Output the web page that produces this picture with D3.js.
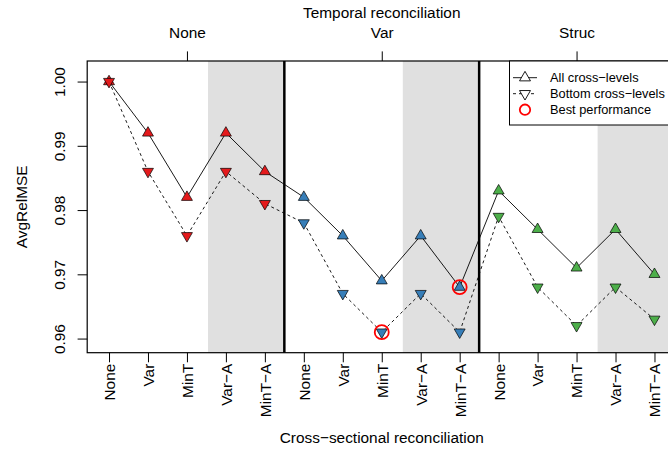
<!DOCTYPE html>
<html>
<head>
<meta charset="utf-8">
<script src="https://cdn.jsdelivr.net/npm/d3@7"></script>
<style>
    body { margin: 0; background: #fff; }
    text { font-family: "Liberation Sans", Arial, sans-serif; fill: #000; }
</style>
</head>
<body>
<div id="content"></div>
<script>
var width = 668,
    height = 453;

// plot region (right edge runs past the window, like the reference)
var plotLeft = 87.2, plotRight = 676.3, plotTop = 61, plotBottom = 352.7;

// data
const crossLabels = ["None", "Var", "MinT", "Var\u2212A", "MinT\u2212A"];
const temporalLabels = ["None", "Var", "Struc"];
const allLevels = [1.000, 0.992, 0.982, 0.992, 0.986,
                   0.982, 0.976, 0.969, 0.976, 0.968,
                   0.983, 0.977, 0.971, 0.977, 0.970];
const bottomLevels = [1.000, 0.986, 0.976, 0.986, 0.981,
                      0.978, 0.967, 0.961, 0.967, 0.961,
                      0.979, 0.968, 0.962, 0.968, 0.963];
const groupColors = ["#E41A1C", "#377EB8", "#4DAF4A"];
const yTicks = [0.96, 0.97, 0.98, 0.99, 1.00];
// best performance: which series, position (1-based)
const bestSeries = ["bottom", "all"];
const bestIndex = [8, 10];
const legendLabels = ["All cross\u2212levels", "Bottom cross\u2212levels", "Best performance"];

window.addEventListener('load', (event) => {

    var svg = d3.select("#content")
        .append("svg")
        .attr("width", width)
        .attr("height", height);

    var x = d3.scaleLinear().domain([0.44, 15.56]).range([plotLeft, plotRight]);
    var y = d3.scaleLinear().domain([0.9578, 1.0032]).range([plotBottom, plotTop]);

    var nGroups = temporalLabels.length, perGroup = crossLabels.length;

    // shaded aggregated methods (Var-A, MinT-A) in each block
    svg.selectAll(".shade")
        .data(d3.range(nGroups))
        .enter()
        .append("rect")
        .attr("x", g => x(g * perGroup + 3.54))
        .attr("y", plotTop)
        .attr("width", g => x(g * perGroup + 5.5) - x(g * perGroup + 3.54))
        .attr("height", plotBottom - plotTop)
        .attr("fill", "#E0E0E0");

    // block separators
    svg.selectAll(".sep")
        .data(d3.range(1, nGroups))
        .enter()
        .append("line")
        .attr("x1", g => x(g * perGroup + 0.5))
        .attr("x2", g => x(g * perGroup + 0.5))
        .attr("y1", plotTop)
        .attr("y2", plotBottom)
        .attr("stroke", "#000")
        .attr("stroke-width", 2.5);

    var line = d3.line()
        .x((d, i) => x(i + 1))
        .y(d => y(d));

    svg.append("path")
        .attr("d", line(allLevels))
        .attr("fill", "none")
        .attr("stroke", "#000")
        .attr("stroke-width", 0.9);

    svg.append("path")
        .attr("d", line(bottomLevels))
        .attr("fill", "none")
        .attr("stroke", "#000")
        .attr("stroke-width", 0.9)
        .attr("stroke-dasharray", "3,3");

    var tri = d3.symbol().type(d3.symbolTriangle).size(52);

    svg.selectAll(".up")
        .data(allLevels)
        .enter()
        .append("path")
        .attr("d", tri)
        .attr("transform", (d, i) => "translate(" + x(i + 1) + "," + y(d) + ")")
        .attr("fill", (d, i) => groupColors[Math.floor(i / perGroup)])
        .attr("stroke", "#000")
        .attr("stroke-width", 0.7);

    svg.selectAll(".down")
        .data(bottomLevels)
        .enter()
        .append("path")
        .attr("d", tri)
        .attr("transform", (d, i) => "translate(" + x(i + 1) + "," + y(d) + ") rotate(180)")
        .attr("fill", (d, i) => groupColors[Math.floor(i / perGroup)])
        .attr("stroke", "#000")
        .attr("stroke-width", 0.7);

    // best performance circles
    svg.selectAll(".best")
        .data(bestIndex)
        .enter()
        .append("circle")
        .attr("cx", d => x(d))
        .attr("cy", (d, i) => y(bestSeries[i] == "all" ? allLevels[d - 1] : bottomLevels[d - 1]))
        .attr("r", 7)
        .attr("fill", "none")
        .attr("stroke", "#FF0000")
        .attr("stroke-width", 1.8);

    // box
    svg.append("rect")
        .attr("x", plotLeft)
        .attr("y", plotTop)
        .attr("width", plotRight - plotLeft)
        .attr("height", plotBottom - plotTop)
        .attr("fill", "none")
        .attr("stroke", "#000")
        .attr("stroke-width", 1.2);

    // left axis
    var yAxis = svg.append("g")
        .attr("transform", "translate(" + plotLeft + ",0)")
        .call(d3.axisLeft(y).tickValues(yTicks).tickFormat(d3.format(".2f")).tickSize(9.6));
    yAxis.select(".domain").remove();
    yAxis.selectAll("line").attr("stroke", "#000");
    yAxis.selectAll("text")
        .attr("transform", "rotate(-90)")
        .attr("x", 0)
        .attr("y", -22)
        .attr("dy", 0)
        .style("text-anchor", "middle")
        .style("font-size", "15.4px")
        .style("font-family", "Liberation Sans, Arial, sans-serif");

    // bottom axis
    var xAxis = svg.append("g")
        .attr("transform", "translate(0," + plotBottom + ")")
        .call(d3.axisBottom(x).tickValues(d3.range(1, 16))
            .tickFormat(i => crossLabels[(i - 1) % perGroup]).tickSize(9.6));
    xAxis.select(".domain").remove();
    xAxis.selectAll("line").attr("stroke", "#000");
    xAxis.selectAll("text")
        .attr("transform", "rotate(-90)")
        .attr("x", -11)
        .attr("y", 0)
        .attr("dy", "0.35em")
        .style("text-anchor", "end")
        .style("font-size", "15.4px")
        .style("font-family", "Liberation Sans, Arial, sans-serif");

    // top axis
    var tAxis = svg.append("g")
        .attr("transform", "translate(0," + plotTop + ")")
        .call(d3.axisTop(x).tickValues([3, 8, 13])
            .tickFormat((d, i) => temporalLabels[i]).tickSize(9.6).tickPadding(13));
    tAxis.select(".domain").remove();
    tAxis.selectAll("line").attr("stroke", "#000");
    tAxis.selectAll("text")
        .attr("dy", 0)
        .style("font-size", "15.4px")
        .style("font-family", "Liberation Sans, Arial, sans-serif");

    var mid = (plotLeft + plotRight) / 2;

    svg.append("text")
        .attr("x", mid)
        .attr("y", 18)
        .attr("text-anchor", "middle")
        .style("font-size", "15.4px")
        .text("Temporal reconciliation");

    svg.append("text")
        .attr("x", mid)
        .attr("y", 443)
        .attr("text-anchor", "middle")
        .style("font-size", "15.4px")
        .text("Cross\u2212sectional reconciliation");

    svg.append("text")
        .attr("transform", "translate(27," + (plotTop + plotBottom) / 2 + ") rotate(-90)")
        .attr("text-anchor", "middle")
        .style("font-size", "15.4px")
        .text("AvgRelMSE");

    // legend
    var lg = svg.append("g");
    lg.append("rect")
        .attr("x", 509.5)
        .attr("y", plotTop)
        .attr("width", plotRight - 509.5)
        .attr("height", 64)
        .attr("fill", "#fff")
        .attr("stroke", "#000")
        .attr("stroke-width", 1);

    var rows = lg.selectAll(".row")
        .data(legendLabels)
        .enter()
        .append("g")
        .attr("transform", (d, i) => "translate(0," + (77.7 + i * 16) + ")");

    rows.filter((d, i) => i < 2)
        .append("line")
        .attr("x1", 513)
        .attr("x2", 537)
        .attr("stroke", "#000")
        .attr("stroke-width", 0.9)
        .attr("stroke-dasharray", (d, i) => i == 1 ? "3,3" : null);

    rows.filter((d, i) => i < 2)
        .append("path")
        .attr("d", tri)
        .attr("transform", (d, i) => "translate(525,0)" + (i == 1 ? " rotate(180)" : ""))
        .attr("fill", "#fff")
        .attr("stroke", "#000")
        .attr("stroke-width", 0.9);

    rows.filter((d, i) => i == 2)
        .append("circle")
        .attr("cx", 525)
        .attr("r", 5.2)
        .attr("fill", "none")
        .attr("stroke", "#FF0000")
        .attr("stroke-width", 1.8);

    rows.append("text")
        .attr("x", 550)
        .attr("dy", "0.35em")
        .style("font-size", "12.8px")
        .text(d => d);
});
</script>
</body>
</html>
